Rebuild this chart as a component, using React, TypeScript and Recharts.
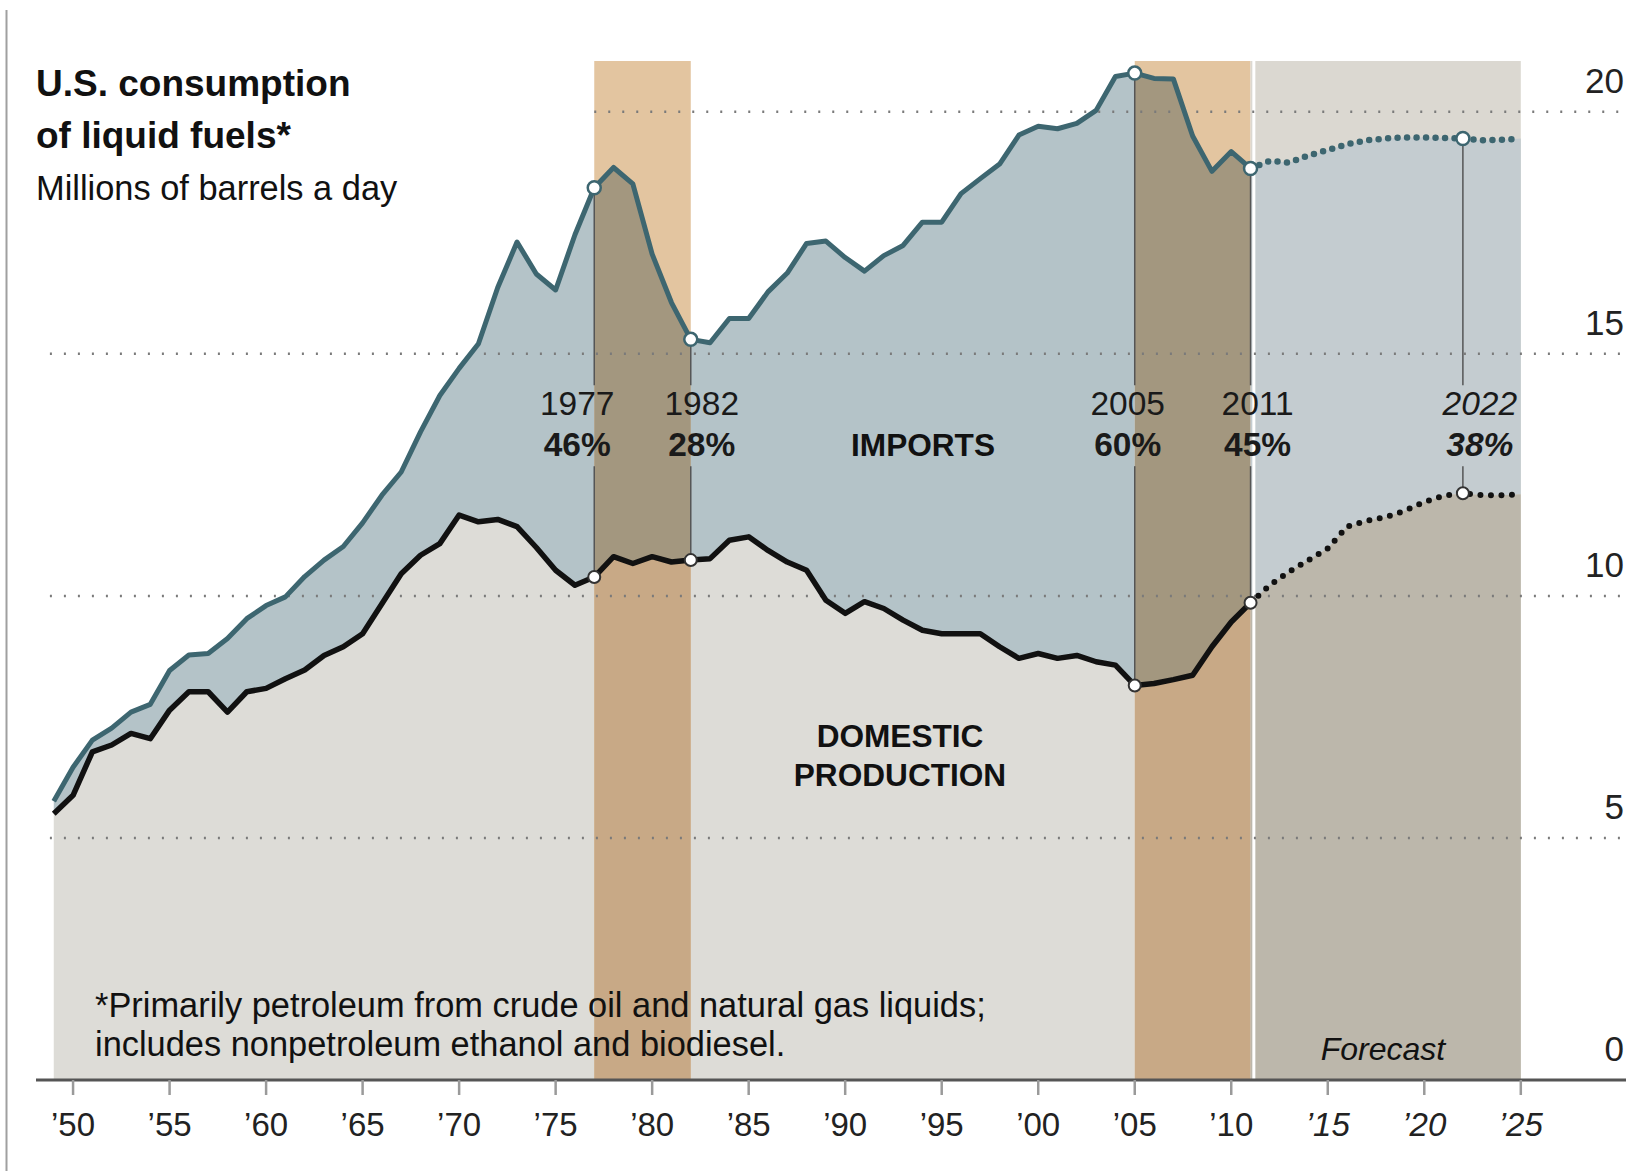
import React from "react";
import {
  ComposedChart,
  Area,
  Line,
  XAxis,
  YAxis,
  ReferenceLine,
  ReferenceDot,
} from "recharts";

const W = 1627;
const H = 1171;
const FONT = "'Liberation Sans', Arial, Helvetica, sans-serif";

// million barrels a day, one value per year from 1949 through 2025 (2012+ is forecast)
const firstYear = 1949;
const consumption = [
  5.76, 6.46, 7.02, 7.27, 7.6, 7.76, 8.46, 8.78, 8.81, 9.12,
  9.53, 9.8, 9.98, 10.4, 10.74, 11.02, 11.51, 12.08, 12.56, 13.39,
  14.14, 14.7, 15.21, 16.37, 17.31, 16.65, 16.32, 17.46, 18.43, 18.85,
  18.51, 17.06, 16.06, 15.3, 15.23, 15.73, 15.73, 16.28, 16.67, 17.28,
  17.33, 16.99, 16.71, 17.03, 17.24, 17.72, 17.72, 18.31, 18.62, 18.92,
  19.52, 19.7, 19.65, 19.76, 20.03, 20.73, 20.8, 20.69, 20.68, 19.5,
  18.77, 19.18, 18.83, 18.99, 18.95, 19.1, 19.21, 19.33, 19.41, 19.45,
  19.47, 19.47, 19.46, 19.45, 19.41, 19.42, 19.45,
];
const domestic = [
  5.5, 5.88, 6.78, 6.92, 7.16, 7.05, 7.64, 8.02, 8.02, 7.6,
  8.02, 8.09, 8.29, 8.47, 8.77, 8.95, 9.22, 9.84, 10.46, 10.84,
  11.08, 11.67, 11.53, 11.58, 11.43, 11.0, 10.53, 10.22, 10.39, 10.81,
  10.67, 10.81, 10.7, 10.74, 10.77, 11.15, 11.22, 10.94, 10.7, 10.53,
  9.91, 9.64, 9.88, 9.74, 9.5, 9.29, 9.22, 9.22, 9.22, 8.95,
  8.71, 8.81, 8.71, 8.77, 8.64, 8.57, 8.15, 8.19, 8.27, 8.36,
  8.95, 9.46, 9.86, 10.22, 10.5, 10.74, 10.98, 11.43, 11.55, 11.63,
  11.76, 11.94, 12.07, 12.12, 12.08, 12.08, 12.1,
];
const years = consumption.map((_, i) => firstYear + i);

const forecastFrom = 2011;
const shockPeriods = [
  [1977, 1982],
  [2005, 2011],
];
const calloutYears = [1977, 1982, 2005, 2011, 2022];
const importShares = ["46%", "28%", "60%", "45%", "38%"];

const xTicks = [1950, 1955, 1960, 1965, 1970, 1975, 1980, 1985, 1990, 1995, 2000, 2005, 2010, 2015, 2020, 2025];
const yTicks = [0, 5, 10, 15, 20];

// layout (data units)
const X_DOMAIN: [number, number] = [1948.08, 2030.45];
const Y_DOMAIN: [number, number] = [0, 22];
const BAND_TOP = 21.05;
const GRID_START = 1948.8;
const LABEL_Y = 13.74;
const GAP_TOP = 14.35;
const GAP_BOTTOM = 12.68;
const labelNudge = [-17, 11, -7, 7, 17];

const C = {
  total: "#3d6670",
  domestic: "#111111",
  bandTop: "#e3c5a0",
  fcTop: "#dbd8d1",
  impNormal: "#b4c3c8",
  impShock: "#a3977f",
  impFc: "#c4ccd0",
  domNormal: "#dddcd7",
  domShock: "#c8a986",
  domFc: "#bcb7ab",
};

const rows = years.map((year, i) => {
  const tot = consumption[i];
  const dom = domestic[i];
  const shock = shockPeriods.some(([a, b]) => year >= a && year <= b);
  const normal = year < forecastFrom && !shockPeriods.some(([a, b]) => year > a && year < b);
  const fc = year >= forecastFrom;
  return {
    year,
    shadeTop: shock ? [0, BAND_TOP] : null,
    fcTop: fc ? [0, BAND_TOP] : null,
    impNormal: normal ? [dom, tot] : null,
    impShock: shock ? [dom, tot] : null,
    impFc: fc ? [dom, tot] : null,
    domNormal: normal ? [0, dom] : null,
    domShock: shock ? [0, dom] : null,
    domFc: fc ? [0, dom] : null,
    totHist: year <= forecastFrom ? tot : null,
    totFc: fc ? tot : null,
    domHist: year <= forecastFrom ? dom : null,
    domFcLine: fc ? dom : null,
  };
});

const valueAt = (arr: number[], yr: number) => arr[yr - firstYear];

function XTick(props: any) {
  const { x, y, payload } = props;
  const yr = payload.value as number;
  return (
    <text
      x={x}
      y={y}
      dy={39}
      textAnchor="middle"
      fontSize={33}
      fontFamily={FONT}
      fontStyle={yr > forecastFrom ? "italic" : "normal"}
      fill="#222"
    >
      {"\u2019" + String(yr).slice(2)}
    </text>
  );
}

function YTick(props: any) {
  const { y, payload } = props;
  return (
    <text x={W - 3} y={y} dy={-19} textAnchor="end" fontSize={35} fontFamily={FONT} fill="#222">
      {payload.value}
    </text>
  );
}

function CalloutLabel(props: any) {
  const { viewBox, year, share, nudge, italic } = props;
  if (!viewBox) return null;
  const x = viewBox.x + (viewBox.width || 0) / 2 + nudge;
  const y = viewBox.y + (viewBox.height || 0) / 2;
  return (
    <g fontFamily={FONT} fill="#1a1a1a" fontStyle={italic ? "italic" : "normal"}>
      <text x={x} y={y} textAnchor="middle" fontSize={33.5}>
        {year}
      </text>
      <text x={x} y={y + 41} textAnchor="middle" fontSize={33.5} fontWeight="bold">
        {share}
      </text>
    </g>
  );
}

const fillArea = (key: string, color: string) => (
  <Area
    key={key}
    dataKey={key}
    type="linear"
    stroke="none"
    fill={color}
    fillOpacity={1}
    dot={false}
    activeDot={false}
    isAnimationActive={false}
  />
);

export default function App() {
  return (
    <div style={{ position: "absolute", left: 0, top: 0, width: W, height: H, background: "#fff" }}>
      <ComposedChart width={W} height={H} data={rows} margin={{ top: 15, right: 0, left: 36, bottom: 0 }}>
        <XAxis
          dataKey="year"
          type="number"
          domain={X_DOMAIN}
          allowDataOverflow
          ticks={xTicks}
          interval={0}
          height={91}
          tickSize={15}
          tickLine={{ stroke: "#9a9a9a", strokeWidth: 2.5 }}
          axisLine={{ stroke: "#555", strokeWidth: 3 }}
          tick={<XTick />}
        />
        <YAxis
          orientation="right"
          type="number"
          domain={Y_DOMAIN}
          allowDataOverflow
          ticks={yTicks}
          width={1}
          axisLine={false}
          tickLine={false}
          tick={<YTick />}
        />

        {fillArea("shadeTop", C.bandTop)}
        {fillArea("fcTop", C.fcTop)}
        {fillArea("impNormal", C.impNormal)}
        {fillArea("impShock", C.impShock)}
        {fillArea("impFc", C.impFc)}
        {fillArea("domNormal", C.domNormal)}
        {fillArea("domShock", C.domShock)}
        {fillArea("domFc", C.domFc)}

        <ReferenceLine
          segment={[
            { x: forecastFrom + 0.17, y: 0 },
            { x: forecastFrom + 0.17, y: BAND_TOP },
          ]}
          stroke="#ffffff"
          strokeWidth={3}
          ifOverflow="visible"
          zIndex={120}
        />

        {yTicks
          .filter((v) => v > 0)
          .map((v) => (
            <ReferenceLine
              key={"g" + v}
              segment={[
                { x: v === 20 ? shockPeriods[0][0] : GRID_START, y: v },
                { x: X_DOMAIN[1], y: v },
              ]}
              stroke="#7a7a7a"
              strokeWidth={2.5}
              strokeDasharray="2 12"
              ifOverflow="visible"
              zIndex={150}
            />
          ))}

        {calloutYears.map((yr) => (
          <ReferenceLine
            key={"ct" + yr}
            segment={[
              { x: yr, y: valueAt(consumption, yr) },
              { x: yr, y: GAP_TOP },
            ]}
            stroke="#555"
            strokeWidth={1.5}
            ifOverflow="visible"
            zIndex={160}
          />
        ))}
        {calloutYears.map((yr) => (
          <ReferenceLine
            key={"cb" + yr}
            segment={[
              { x: yr, y: GAP_BOTTOM },
              { x: yr, y: valueAt(domestic, yr) },
            ]}
            stroke="#555"
            strokeWidth={1.5}
            ifOverflow="visible"
            zIndex={160}
          />
        ))}

        <Line dataKey="totHist" type="linear" stroke={C.total} strokeWidth={5} strokeLinejoin="round" dot={false} activeDot={false} isAnimationActive={false} />
        <Line dataKey="totFc" type="linear" stroke={C.total} strokeWidth={6.5} strokeDasharray="0 9.5" strokeLinecap="round" dot={false} activeDot={false} isAnimationActive={false} />
        <Line dataKey="domHist" type="linear" stroke={C.domestic} strokeWidth={5.5} strokeLinejoin="round" dot={false} activeDot={false} isAnimationActive={false} />
        <Line dataKey="domFcLine" type="linear" stroke={C.domestic} strokeWidth={6} strokeDasharray="0 10.5" strokeLinecap="round" dot={false} activeDot={false} isAnimationActive={false} />

        {calloutYears.map((yr) => (
          <ReferenceDot key={"mt" + yr} x={yr} y={valueAt(consumption, yr)} r={6.5} fill="#fff" stroke={C.total} strokeWidth={2.5} ifOverflow="visible" zIndex={600} />
        ))}
        {calloutYears.map((yr) => (
          <ReferenceDot key={"md" + yr} x={yr} y={valueAt(domestic, yr)} r={6} fill="#fff" stroke="#333" strokeWidth={2} ifOverflow="visible" zIndex={600} />
        ))}
        {calloutYears.map((yr, i) => (
          <ReferenceDot
            key={"lb" + yr}
            x={yr}
            y={LABEL_Y}
            r={0}
            fill="none"
            stroke="none"
            ifOverflow="visible"
            label={<CalloutLabel year={yr} share={importShares[i]} nudge={labelNudge[i]} italic={yr > forecastFrom} />}
          />
        ))}
      </ComposedChart>

      <svg
        width={W}
        height={H}
        style={{ position: "absolute", left: 0, top: 0, pointerEvents: "none" }}
        fontFamily={FONT}
        fill="#111"
      >
        <line x1={6.5} y1={10} x2={6.5} y2={H} stroke="#a0a0a0" strokeWidth={2} />
        <text x={36} y={96} fontSize={37} fontWeight="bold">U.S. consumption</text>
        <text x={36} y={148} fontSize={37} fontWeight="bold">of liquid fuels*</text>
        <text x={36} y={200} fontSize={34.4}>Millions of barrels a day</text>
        <text x={923} y={456} fontSize={31.6} fontWeight="bold" textAnchor="middle">IMPORTS</text>
        <text x={900} y={747} fontSize={31.6} fontWeight="bold" textAnchor="middle">DOMESTIC</text>
        <text x={900} y={786} fontSize={31.6} fontWeight="bold" textAnchor="middle">PRODUCTION</text>
        <text x={95} y={1017} fontSize={34.4}>*Primarily petroleum from crude oil and natural gas liquids;</text>
        <text x={95} y={1056} fontSize={34.4}>includes nonpetroleum ethanol and biodiesel.</text>
        <text x={1383} y={1060} fontSize={32} fontStyle="italic" textAnchor="middle">Forecast</text>
      </svg>
    </div>
  );
}
